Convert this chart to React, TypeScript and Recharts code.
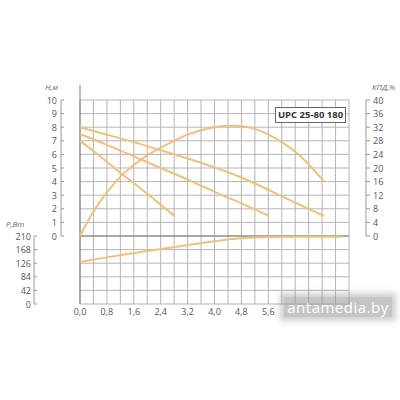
import { ComposedChart, Line, XAxis, YAxis, CartesianGrid, ReferenceLine } from 'recharts'

// flow, m3/h
const flowTicks = [0, 0.4, 0.8, 1.2, 1.6, 2.0, 2.4, 2.8, 3.2, 3.6, 4.0, 4.4, 4.8, 5.2, 5.6, 6.0, 6.4, 6.8, 7.2, 7.6, 8.0]
const headTicks = [-5, -4, -3, -2, -1, 0, 1, 2, 3, 4, 5, 6, 7, 8, 9, 10]
const powerTicks = [0, 42, 84, 126, 168, 210]
const effTicks = [0, 4, 8, 12, 16, 20, 24, 28, 32, 36, 40]

// speed 1
const flowLow = [0, 0.4, 0.8, 1.2, 1.6, 2.0, 2.4, 2.8]
const headLow = [7.0, 6.25, 5.45, 4.65, 3.9, 3.1, 2.3, 1.5]
// speed 2
const flowMid = [0, 0.8, 1.6, 2.4, 3.2, 4.0, 4.8, 5.6]
const headMid = [7.5, 6.7, 5.85, 5.0, 4.15, 3.25, 2.4, 1.5]
// speed 3
const flowHigh = [0, 0.8, 1.6, 2.4, 3.2, 4.0, 4.8, 5.6, 6.4, 7.26]
const headHigh = [8.0, 7.45, 6.9, 6.3, 5.7, 5.05, 4.3, 3.4, 2.45, 1.47]
// efficiency, %
const flowEff = [0, 0.4, 0.8, 1.2, 1.6, 2.0, 2.4, 2.8, 3.2, 3.6, 4.0, 4.4, 4.8, 5.2, 5.6, 6.0, 6.4, 6.8, 7.26]
const effValues = [0, 7.2, 12.8, 17.4, 20.9, 23.7, 26, 28, 29.8, 31.1, 32, 32.4, 32.3, 31.5, 29.9, 27.6, 24.8, 21.1, 16]
// power, W
const flowPow = [0, 0.8, 1.6, 2.4, 3.2, 4.0, 4.8, 5.6, 6.4, 7.2, 7.76]
const powerValues = [130, 144, 157, 170, 182, 194, 203, 207, 208, 208, 208]

const lowData = flowLow.map((q, i) => ({ q, h: headLow[i] }))
const midData = flowMid.map((q, i) => ({ q, h: headMid[i] }))
const highData = flowHigh.map((q, i) => ({ q, h: headHigh[i] }))
const effData = flowEff.map((q, i) => ({ q, e: effValues[i] }))
const powData = flowPow.map((q, i) => ({ q, p: powerValues[i] }))

const TOP = 100
const BOTTOM = 96
const PLOT_H = 400 - TOP - BOTTOM
const ROW = PLOT_H / 15
const curve = '#f0c07a'
const font = '"Open Sans", sans-serif'
const axisGray = '#999'

function bracket(x: number, y: number, v: number, min: number, max: number) {
  const y1 = v === max ? y : y - ROW / 2
  const y2 = v === min ? y : y + ROW / 2
  return <line x1={x} y1={y1} x2={x} y2={y2} stroke={axisGray} strokeWidth={1} />
}

const HeadTick = (props: any) => {
  const { x, y, payload } = props
  const v = payload.value
  if (v < 0) return <g />
  return (
    <g>
      <text x={x} y={y} textAnchor="end" dominantBaseline="central" fontSize={9} fill="#555" fontFamily={font}>{v}</text>
      <line x1={x + 4} y1={y} x2={x + 7} y2={y} stroke={axisGray} />
      {bracket(x + 4, y, v, 0, 10)}
    </g>
  )
}

const PowerTick = (props: any) => {
  const { x, y, payload } = props
  const v = payload.value
  return (
    <g>
      <text x={x} y={y} textAnchor="end" dominantBaseline="central" fontSize={9} fill="#555" fontFamily={font}>{v}</text>
      <line x1={x + 3} y1={y} x2={x + 6} y2={y} stroke={axisGray} />
      {bracket(x + 3, y, v, 0, 210)}
    </g>
  )
}

const EffTick = (props: any) => {
  const { x, y, payload } = props
  const v = payload.value
  return (
    <g>
      <text x={x} y={y} textAnchor="start" dominantBaseline="central" fontSize={9} fill="#555" fontFamily={font}>{v}</text>
      <line x1={x - 7} y1={y} x2={x - 3} y2={y} stroke={axisGray} />
      {bracket(x - 7, y, v, 0, 40)}
    </g>
  )
}

const fmtFlow = (v: number) => {
  const k = Math.round(v / 0.4)
  return k % 2 === 0 && v <= 5.65 ? v.toFixed(1).replace('.', ',') : ''
}

const titleStyle = { position: 'absolute' as const, fontFamily: font, fontStyle: 'italic', fontSize: 8, color: '#666' }

export default function App() {
  return (
    <div style={{ position: 'absolute', left: 0, top: 0, width: 400, height: 400, background: '#fff' }}>
      <ComposedChart width={400} height={400} margin={{ top: TOP, right: 0, bottom: 66, left: 0 }}>
        <CartesianGrid yAxisId="h" stroke="#b4b4b4" strokeWidth={1} />
        <XAxis
          dataKey="q"
          type="number"
          domain={[0, 8]}
          ticks={flowTicks}
          interval={0}
          tickFormatter={fmtFlow}
          axisLine={false}
          tickLine={false}
          tickSize={0}
          tickMargin={5}
          height={30}
          tick={{ fontSize: 9, fill: '#555', fontFamily: font }}
        />
        <YAxis
          yAxisId="h"
          type="number"
          domain={[-5, 10]}
          ticks={headTicks}
          interval={0}
          width={40}
          axisLine={false}
          tickLine={false}
          tickSize={0}
          tickMargin={23}
          tick={HeadTick}
        />
        <YAxis
          yAxisId="p"
          type="number"
          domain={[0, 630]}
          ticks={powerTicks}
          interval={0}
          width={40}
          axisLine={false}
          tickLine={false}
          tickSize={0}
          tickMargin={9}
          tick={PowerTick}
        />
        <YAxis
          yAxisId="k"
          orientation="right"
          type="number"
          domain={[-20, 40]}
          ticks={effTicks}
          interval={0}
          width={51}
          axisLine={false}
          tickLine={false}
          tickSize={0}
          tickMargin={24}
          tick={EffTick}
        />
        <ReferenceLine yAxisId="h" y={0} stroke="#7a7a7a" />
        <ReferenceLine
          yAxisId="h"
          segment={[{ x: 0, y: -5 }, { x: 0, y: 11.1 }]}
          ifOverflow="visible"
          stroke="#7a7a7a"
        />
        <Line yAxisId="h" data={lowData} dataKey="h" type="natural" stroke={curve} strokeWidth={2} dot={false} isAnimationActive={false} />
        <Line yAxisId="h" data={midData} dataKey="h" type="natural" stroke={curve} strokeWidth={2} dot={false} isAnimationActive={false} />
        <Line yAxisId="h" data={highData} dataKey="h" type="natural" stroke={curve} strokeWidth={2} dot={false} isAnimationActive={false} />
        <Line yAxisId="k" data={effData} dataKey="e" type="natural" stroke={curve} strokeWidth={2} dot={false} isAnimationActive={false} />
        <Line yAxisId="p" data={powData} dataKey="p" type="monotone" stroke={curve} strokeWidth={2} dot={false} isAnimationActive={false} />
      </ComposedChart>

      <div style={{ ...titleStyle, left: 45, top: 81 }}>H,м</div>
      <div style={{ ...titleStyle, left: 6, top: 218 }}>P,Вт</div>
      <div style={{ ...titleStyle, left: 372, top: 81 }}>КПД,%</div>

      <div
        style={{
          position: 'absolute',
          left: 275,
          top: 107,
          width: 71,
          height: 16,
          boxSizing: 'border-box',
          border: '1px solid #666',
          background: '#fff',
          fontFamily: font,
          fontWeight: 700,
          fontSize: 9.5,
          color: '#333',
          lineHeight: '14px',
          textAlign: 'center',
          whiteSpace: 'nowrap',
        }}
      >
        UPC 25-80 180
      </div>

      <div
        style={{
          position: 'absolute',
          left: 284,
          top: 297,
          width: 108,
          height: 20,
          background: 'rgba(150,150,150,0.55)',
          boxShadow: '0 0 6px 4px rgba(150,150,150,0.45)',
          fontFamily: font,
          fontSize: 15,
          color: '#fff',
          lineHeight: '20px',
          letterSpacing: 0.5,
          textAlign: 'center',
        }}
      >
        antamedia.by
      </div>
    </div>
  )
}
